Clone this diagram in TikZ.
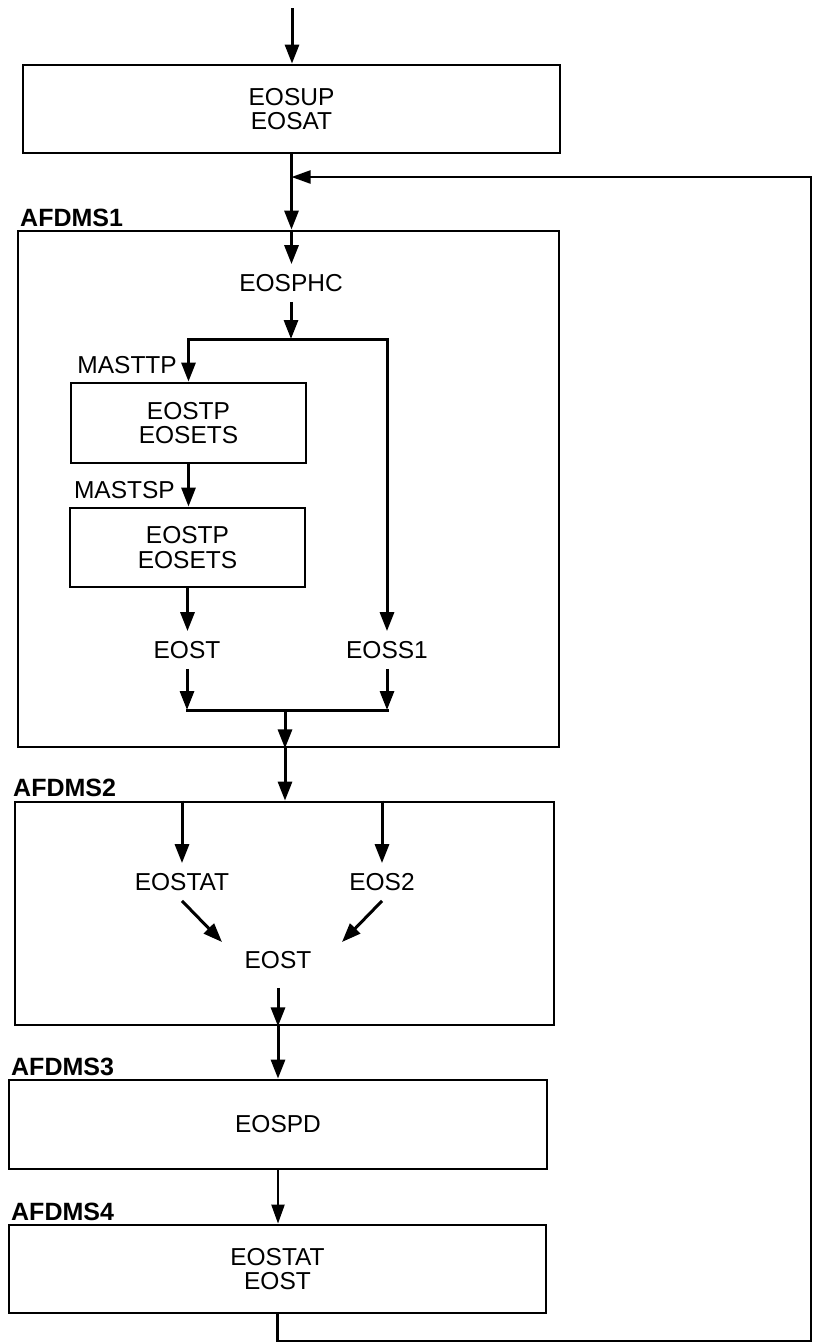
\documentclass[tikz,border=0pt]{standalone}
\usepackage{fontspec}
\setmainfont{Liberation Sans}
\usetikzlibrary{arrows.meta,calc}
\begin{document}
\begin{tikzpicture}[x=1pt,y=1pt,
  every node/.style={font=\fontsize{24.5}{24.5}\selectfont},
  box/.style={draw, line width=2.8pt, inner sep=0pt, align=center},
  txt/.style={inner sep=10pt, align=center},
  lbl/.style={font=\fontsize{25}{25}\selectfont\bfseries, inner sep=0pt},
  side/.style={inner sep=0pt},
  arr/.style={line width=3pt, -{Triangle[length=19pt,width=14pt]}},
  thinarr/.style={line width=2.2pt, -{Triangle[length=19pt,width=13pt]}},
  ln/.style={line width=3pt, line cap=rect},
]
\useasboundingbox (0,0) rectangle (813,-1344);

% boxes
\node[box, minimum width=537, minimum height=88] (b1) at (291.5,-109) {EOSUP\\EOSAT};
\node[box, minimum width=541, minimum height=516] (a1) at (288.5,-489) {};
\node[lbl, anchor=west] (l1) at (20,-218) {AFDMS1};
\node[txt] (phc) at (291,-283) {EOSPHC};
\node[box, minimum width=235, minimum height=80] (tp1) at (188.5,-423) {EOSTP\\EOSETS};
\node[side, anchor=east] (m1) at (177,-365) {MASTTP};
\node[box, minimum width=235, minimum height=79] (tp2) at (187.5,-547.5) {EOSTP\\EOSETS};
\node[side, anchor=east] (m2) at (175,-490) {MASTSP};
\node[txt] (eost1) at (187,-650) {EOST};
\node[txt] (eoss1) at (387,-650) {EOSS1};

\node[box, minimum width=539, minimum height=223] (a2) at (284.5,-913.5) {};
\node[lbl, anchor=west] (l2) at (13,-788) {AFDMS2};
\node[txt] (eostat) at (182,-882) {EOSTAT};
\node[txt] (eos2) at (382,-882) {EOS2};
\node[txt] (eost2) at (278,-960) {EOST};

\node[box, minimum width=538, minimum height=89] (a3) at (278,-1124.5) {EOSPD};
\node[lbl, anchor=west] (l3) at (11,-1067) {AFDMS3};
\node[box, minimum width=537, minimum height=88] (a4) at (277.5,-1269) {EOSTAT\\EOST};
\node[lbl, anchor=west] (l4) at (11,-1212) {AFDMS4};

% helper coordinates
\coordinate (top) at (292,-8);
\coordinate (br) at (291,-339);
\coordinate (jn) at (285,-710);
\coordinate (fbr) at (811,-177);
\coordinate (fbb) at (811,-1341);

% connectors
\draw[arr] (top) -- (top |- b1.north);
\draw[arr] (b1.south) -- (b1.south |- a1.north);
\draw[arr] (b1.south |- a1.north) -- (b1.south |- phc.north);
\draw[arr] (phc.south) -- (phc.south |- br);
\draw[ln] (tp1.north |- br) -- (eoss1.north |- br);
\draw[arr] (tp1.north |- br) -- (tp1.north);
\draw[arr] (eoss1.north |- br) -- (eoss1.north);
\draw[arr] (tp1.south) -- (tp1.south |- tp2.north);
\draw[arr] (tp2.south) -- (tp2.south |- eost1.north);
\draw[arr] (eost1.south) -- (eost1.south |- jn);
\draw[arr] (eoss1.south) -- (eoss1.south |- jn);
\draw[ln] (eost1.south |- jn) -- (eoss1.south |- jn);
\draw[arr] (jn) -- (jn |- a1.south);
\draw[arr] (jn |- a1.south) -- (jn |- a2.north);

\draw[arr] (eostat.north |- a2.north) -- (eostat.north);
\draw[arr] (eos2.north |- a2.north) -- (eos2.north);
\draw[arr] (eostat.south) -- ($(eost2.center)+(-56,18)$);
\draw[arr] (eos2.south) -- ($(eost2.center)+(64,18)$);
\draw[arr, shorten <=9pt] (eost2.south) -- (eost2.south |- a2.south);
\draw[arr] (eost2.south |- a2.south) -- (eost2.south |- a3.north);
\draw[thinarr] (a3.south) -- (a3.south |- a4.north);

\draw[thinarr] (a4.south) |- (fbb) -- (fbr) -- (fbr -| b1.south);
\end{tikzpicture}
\end{document}
